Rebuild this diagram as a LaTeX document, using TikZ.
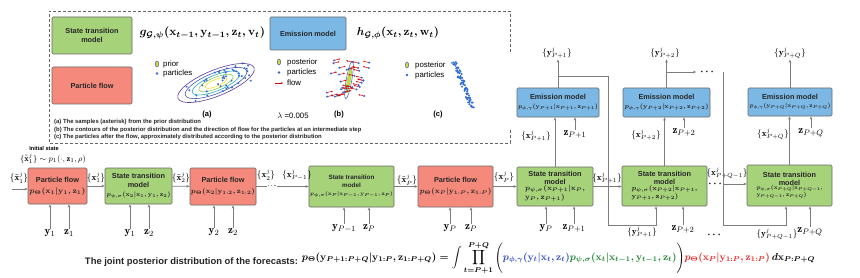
\documentclass[tikz,border=0pt]{standalone}
\usepackage{fontspec}
\setsansfont{Liberation Sans}
\usepackage{amsmath,amssymb}
\usepackage{graphicx}
\usetikzlibrary{arrows.meta}
\definecolor{stgreen}{RGB}{166,210,122}
\definecolor{pfred}{RGB}{245,138,124}
\definecolor{embl}{RGB}{124,184,230}
\definecolor{bordergray}{RGB}{105,105,105}
\definecolor{arrgray}{RGB}{125,125,125}
\definecolor{ptblue}{RGB}{45,105,215}
\definecolor{vpurple}{RGB}{95,60,160}
\definecolor{vblue}{RGB}{70,90,180}
\definecolor{vteal}{RGB}{40,170,190}
\definecolor{vgreen}{RGB}{140,205,80}
\definecolor{vyellow}{RGB}{245,225,40}
\definecolor{fblue}{RGB}{40,70,200}
\definecolor{fgreen}{RGB}{20,130,40}
\definecolor{fred}{RGB}{240,30,30}
\newcommand{\ttlA}{\sffamily\bfseries\fontsize{7.3}{8.4}\selectfont}
\newcommand{\ttlB}{\sffamily\bfseries\fontsize{6.3}{7.4}\selectfont}
\newcommand{\vx}{\mathbf{x}}
\newcommand{\vy}{\mathbf{y}}
\newcommand{\vz}{\mathbf{z}}
\begin{document}
\begin{tikzpicture}[x=1pt,y=-1pt,
  box/.style={draw=bordergray, line width=0.6pt, rounded corners=1.2pt, inner sep=0pt, align=center, text=black!85, font=\ttlA},
  stbox/.style={box, fill=stgreen},
  pfbox/.style={box, fill=pfred},
  embox/.style={box, fill=embl},
  arr/.style={-{Stealth[length=3.2pt,width=2.6pt]}, draw=arrgray, line width=0.6pt},
  plain/.style={draw=arrgray, line width=0.6pt},
  lbl/.style={inner sep=0.4pt, font=\fontsize{9}{10}\selectfont},
  inl/.style={inner sep=0.4pt, font=\fontsize{11}{12}\selectfont},
  leg/.style={anchor=west, inner sep=0pt, font=\sffamily\fontsize{7.8}{9}\selectfont},
  sub/.style={inner sep=0pt, font=\sffamily\bfseries\fontsize{7.5}{9}\selectfont},
  flowarr/.style={-{Stealth[length=1.8pt,width=1.6pt]}, draw=red!85!black, line width=0.5pt},
  pst/.style={draw=vblue, fill=vyellow!70!vgreen, line width=0.5pt}
]
\useasboundingbox (0,0) rectangle (860,278);
\fill[white] (0,0) rectangle (860,278);

% ---------- dashed legend frame ----------
\draw[draw=gray!80!black, line width=0.8pt, dash pattern=on 3pt off 2pt]
  (510,52) -- (510,11) -- (49,11) -- (49,143) -- (510,143) -- (510,128);

% legend boxes
\node[stbox, minimum width=80pt, minimum height=37pt] (lst) at (92,35.5) {State transition\\model};
\node[pfbox, minimum width=80pt, minimum height=37pt] (lpf) at (92,85.5) {Particle flow};
\node[embox, minimum width=76pt, minimum height=33pt] (lem) at (308,33.5) {Emission model};
\node[inner sep=0pt] (gform) at (202.5,33) {\resizebox{125pt}{!}{\boldmath$g_{\mathcal{G},\psi}(\vx_{t-1},\vy_{t-1},\vz_t,\mathbf{v}_t)$}};
\node[inner sep=0pt] (hform) at (398,33) {\resizebox{82pt}{!}{\boldmath$h_{\mathcal{G},\phi}(\vx_t,\vz_t,\mathbf{w}_t)$}};

% plot (a)
\begin{scope}[shift={(216,83)}, rotate=22]
  \draw[vpurple, line width=0.6pt] (0,0) ellipse [x radius=41pt, y radius=13pt];
  \draw[vblue, line width=0.6pt] (0,0) ellipse [x radius=33pt, y radius=10.3pt];
  \draw[vteal, line width=0.6pt] (0,0) ellipse [x radius=25.5pt, y radius=7.8pt];
  \draw[vgreen, line width=0.6pt] (0,0) ellipse [x radius=18.5pt, y radius=5.6pt];
  \draw[vyellow, line width=0.6pt] (0,0) ellipse [x radius=11.5pt, y radius=3.4pt];
  \pgfmathsetseed{11}
  \foreach \i in {1,...,46}{
    \pgfmathsetmacro\px{rand*37}
    \pgfmathsetmacro\py{rand*12}
    \fill[ptblue] (\px pt,\py pt) circle[radius=1.1pt];
  }
\end{scope}
\draw[pst] (157,64) ellipse [x radius=1.7pt, y radius=3pt];
\node[leg] (lgprior) at (163,64) {prior};
\fill[ptblue] (157,73.5) circle[radius=1.4pt];
\node[leg] (lgpart) at (163,73.5) {particles};
\node[sub] (suba) at (207,115) {(a)};

% plot (b)
\begin{scope}[shift={(349,80)}, rotate=80]
  \draw[vblue, line width=0.5pt] (0,0) ellipse [x radius=19pt, y radius=2.8pt];
  \draw[pst, draw=vgreen] (0,0) ellipse [x radius=13pt, y radius=1.6pt];
\end{scope}
\pgfmathsetseed{5}
\foreach \i in {1,...,36}{
  \pgfmathsetmacro\py{79+rand*21}
  \pgfmathsetmacro\ax{349+(79-\py)*0.17}
  \pgfmathsetmacro\px{\ax+rand*20}
  \pgfmathsetmacro\qx{\px+6*sign(\ax-\px)}
  \draw[flowarr] (\px,\py) -- (\qx,\py-1.5);
  \fill[ptblue] (\px,\py) circle[radius=1.1pt];
}
\draw[pst] (279,62) ellipse [x radius=1.7pt, y radius=3pt];
\node[leg] (lgpost) at (287,62) {posterior};
\fill[ptblue] (279,72.5) circle[radius=1.4pt];
\node[leg] (lgpartb) at (287,72.5) {particles};
\draw[flowarr] (275,83) -- (283,83);
\node[leg] (lgflow) at (287,83) {flow};
\node[inner sep=0pt, font=\sffamily\fontsize{7.8}{9}\selectfont] (lam) at (293,116) {$\lambda$ =0.005};
\node[sub] (subb) at (339,115) {(b)};

% plot (c)
\pgfmathsetseed{3}
\foreach \i in {0,...,70}{
  \pgfmathsetmacro\px{454+\i/70*18+rand*2.2}
  \pgfmathsetmacro\py{62+\i/70*44+rand*2.2}
  \fill[ptblue] (\px,\py) circle[radius=1.1pt];
}
\draw[pst] (407,65) ellipse [x radius=1.7pt, y radius=3pt];
\node[leg] (lgpostc) at (415,65) {posterior};
\fill[ptblue] (407,75) circle[radius=1.4pt];
\node[leg] (lgpartc) at (415,75) {particles};
\node[sub] (subc) at (438,115) {(c)};

% captions
\node[anchor=north west, align=left, inner sep=0pt, text=black!85,
  font=\sffamily\bfseries\fontsize{5.9}{7.6}\selectfont] (cap) at (54,119.3)
  {(a) The samples (asterisk) from the prior distribution\\
   (b) The contours of the posterior distribution and the direction of flow for the particles at an intermediate step\\
   (c) The particles after the flow,  approximately distributed according to the posterior distribution};

% ---------- main chain ----------
\node[inner sep=0pt, font=\sffamily\bfseries\fontsize{5.6}{7}\selectfont] (ini) at (44,148.5) {Initial state};
\node[inner sep=0pt, font=\fontsize{8.5}{9}\selectfont] (inid) at (53,158.5) {$\{\tilde{\vx}^j_1\}\sim p_1(\cdot,\vz_1,\rho)$};

\node[pfbox, minimum width=59pt, minimum height=36pt] (pf1) at (57.5,186)
  {Particle flow\\[2.5pt]\resizebox{56pt}{!}{\boldmath$p_{\Theta}(\vx_1|\vy_1,\vz_1)$}};
\node[stbox, minimum width=67pt, minimum height=36pt] (st2) at (138.5,186)
  {State transition\\model\\[1pt]\resizebox{64pt}{!}{\boldmath$p_{\psi,\sigma}(\vx_2|\vx_1,\vy_1,\vz_2)$}};
\node[pfbox, minimum width=66pt, minimum height=37pt] (pf3) at (223,186.5)
  {Particle flow\\[2.5pt]\resizebox{64pt}{!}{\boldmath$p_{\Theta}(\vx_2|\vy_{1:2},\vz_{1:2})$}};
\node[stbox, minimum width=85pt, minimum height=41pt, font=\ttlB] (st4) at (351.5,186.5)
  {State transition\\model\\[1pt]\resizebox{83pt}{!}{\boldmath$p_{\psi,\sigma}(\vx_P|\vx_{P-1},\vy_{P-1},\vz_P)$}};
\node[pfbox, minimum width=75pt, minimum height=41pt] (pf5) at (455.5,186.5)
  {Particle flow\\[3pt]\resizebox{72pt}{!}{\boldmath$p_{\Theta}(\vx_P|\vy_{1:P},\vz_{1:P})$}};
\node[stbox, minimum width=76pt, minimum height=39pt] (st6) at (555,186.5)
  {State transition\\model\\[-1pt]\resizebox{60pt}{!}{\boldmath\begin{tabular}{@{}l@{}}$p_{\psi,\sigma}(\vx_{P+1}|\vx_P,$\\$\vy_P,\vz_{P+1})$\end{tabular}}};
\node[stbox, minimum width=85pt, minimum height=40pt] (st7) at (664.5,186)
  {State transition\\model\\[-1pt]\resizebox{66pt}{!}{\boldmath\begin{tabular}{@{}l@{}}$p_{\psi,\sigma}(\vx_{P+2}|\vx_{P+1},$\\$\vy_{P+1},\vz_{P+2})$\end{tabular}}};
\node[stbox, minimum width=85pt, minimum height=41pt] (st8) at (789.5,185.5)
  {State transition\\model\\[-1pt]\resizebox{66pt}{!}{\boldmath\begin{tabular}{@{}l@{}}$p_{\psi,\sigma}(\vx_{P+Q}|\vx_{P+Q-1},$\\$\vy_{P+Q-1},\vz_{P+Q})$\end{tabular}}};

\node[embox, minimum width=82pt, minimum height=29pt] (em1) at (558,102.5)
  {Emission model\\[0pt]\resizebox{80pt}{!}{\boldmath$p_{\phi,\gamma}(\vy_{P+1}|\vx_{P+1},\vz_{P+1})$}};
\node[embox, minimum width=87pt, minimum height=29pt] (em2) at (666.5,102.5)
  {Emission model\\[0pt]\resizebox{84pt}{!}{\boldmath$p_{\phi,\gamma}(\vy_{P+2}|\vx_{P+2},\vz_{P+2})$}};
\node[embox, minimum width=84pt, minimum height=28pt] (em3) at (790,102)
  {Emission model\\[0pt]\resizebox{81pt}{!}{\boldmath$p_{\phi,\gamma}(\vy_{P+Q}|\vx_{P+Q},\vz_{P+Q})$}};

% chain labels
\node[lbl] (lx0) at (19,178) {$\{\tilde{\vx}^j_1\}$};
\coordinate (in0) at (12,189);
\draw[arr] (in0) -- (in0 -| pf1.west);
\node[lbl] (lx1) at (96,177.5) {$\{\vx^j_1\}$};
\draw[arr] (pf1) -- (st2);
\node[lbl] (lxt2) at (181,177.5) {$\{\tilde{\vx}^j_2\}$};
\draw[arr] (st2) -- (pf3);
\node[lbl] (lx2) at (266,175) {$\{\vx^j_2\}$};
\node[inner sep=0pt, font=\fontsize{9}{10}\selectfont] (dots1) at (272,186.5) {$\cdot\!\cdot\!\cdot\!\cdot$};
\draw[plain] (pf3.east) -- (dots1.west);
\draw[arr] (dots1.east) -- (dots1.east -| st4.west);
\node[lbl] (lxP1) at (297,175) {$\{\vx^j_{P-1}\}$};
\node[lbl] (lxtP) at (407,180) {$\{\tilde{\vx}^j_P\}$};
\draw[arr] (st4) -- (pf5);
\node[lbl] (lxP) at (504,177) {$\{\vx^j_P\}$};
\draw[arr] (pf5) -- (st6);
\node[lbl] (lxP1b) at (607,178) {$\{\vx^j_{P+1}\}$};
\draw[arr] (st6.east) -- (st6.east -| st7.west);
\node[inner sep=0pt, font=\fontsize{10}{10}\selectfont] (dots2) at (716,184) {$\boldsymbol{\cdots}$};
\node[lbl] (lxPQ1) at (727,173) {$\{\vx^j_{P+Q-1}\}$};
\draw[arr] (dots2.east) -- (dots2.east -| st8.west);

% inputs below boxes
\node[inl, anchor=north] (y1a) at (50,229) {$\vy_1$};
\node[inl, anchor=north] (z1a) at (69,229) {$\vz_1$};
\node[inl, anchor=north] (y1b) at (130,229) {$\vy_1$};
\node[inl, anchor=north] (z2b) at (149,229) {$\vz_2$};
\node[inl, anchor=north] (y2c) at (214,228) {$\vy_2$};
\node[inl, anchor=north] (z2c) at (233,228) {$\vz_2$};
\node[inl, anchor=north] (yPd) at (344,224) {$\vy_{P-1}$};
\node[inl, anchor=north] (zPd) at (369,224) {$\vz_P$};
\node[inl, anchor=north] (yPe) at (450,224) {$\vy_P$};
\node[inl, anchor=north] (zPe) at (471,224) {$\vz_P$};
\node[inl, anchor=north] (yPf) at (546,224) {$\vy_P$};
\node[inl, anchor=north] (zPf) at (574,224) {$\vz_{P+1}$};
\node[inl, anchor=north] (zPg) at (683,225) {$\vz_{P+2}$};
\node[inner sep=0pt, font=\fontsize{10}{10}\selectfont] (dots3) at (715,235) {$\boldsymbol{\cdots}$};
\node[inl, anchor=north] (zPh) at (810,227) {$\vz_{P+Q}$};
\foreach \l/\b in {y1a/pf1, z1a/pf1, y1b/st2, z2b/st2, y2c/pf3, z2c/pf3, yPd/st4, zPd/st4, yPe/pf5, zPe/pf5, yPf/st6, zPf/st6, zPg/st7, zPh/st8}
  \draw[arr] (\l.north) -- (\l.north |- \b.south);

% upward links to emission models
\node[lbl] (lxe1) at (536,136) {$\{\vx^j_{P+1}\}$};
\node[inl, anchor=north] (ze1) at (575,130) {$\vz_{P+1}$};
\draw[arr] (st6.north) -- (st6.north |- em1.south);
\draw[arr] (ze1.north) -- (ze1.north |- em1.south);
\node[lbl] (lxe2) at (646,135) {$\{\vx^j_{P+2}\}$};
\node[inl, anchor=north] (ze2) at (684,128) {$\vz_{P+2}$};
\draw[arr] (st7.north) -- (st7.north |- em2.south);
\draw[arr] (ze2.north) -- (ze2.north |- em2.south);
\node[lbl] (lxe3) at (773,134) {$\{\vx^j_{P+Q}\}$};
\node[inl, anchor=north] (ze3) at (811,128) {$\vz_{P+Q}$};
\draw[arr] (st8.north) -- (st8.north |- em3.south);
\draw[arr] (ze3.north) -- (ze3.north |- em3.south);

% outputs
\node[lbl] (ly1) at (557,53) {$\{\vy^j_{P+1}\}$};
\node[lbl] (ly2) at (665,53) {$\{\vy^j_{P+2}\}$};
\node[lbl] (ly3) at (790,53) {$\{\vy^j_{P+Q}\}$};
\draw[arr] (em1.north) -- (em1.north |- ly1.south);
\draw[arr] (em2.north) -- (em2.north |- ly2.south);
\draw[arr] (em3.north) -- (em3.north |- ly3.south);

% feedback of y to next state transition
\coordinate (b1) at (558,76);
\coordinate (c1) at (608,225);
\draw[arr] (b1) -| (c1) -| ([xshift=-8.5pt]st7.south);
\node[lbl] (lyb1) at (642,232) {$\{\vy^j_{P+1}\}$};
\coordinate (b2) at (666.5,72);
\node[inner sep=0pt, font=\fontsize{10}{10}\selectfont] (dots4) at (708,72) {$\boldsymbol{\cdots}$};
\draw[arr] (b2) -- ([xshift=-4pt]dots4.west);
\coordinate (b2s) at (723,72);
\coordinate (c2) at (723,225);
\draw[arr] (b2s) -- (c2) -| ([xshift=-3.5pt]st8.south);
\node[lbl] (lyb2) at (777,234) {$\{\vy^j_{P+Q-1}\}$};

% ---------- joint posterior ----------
\node[inner sep=0pt, text=black!85] (jt) at (191.5,262) {\resizebox{213pt}{!}{\sffamily\bfseries The joint posterior distribution of the forecasts:}};
\node[inner sep=0pt] (fm) at (558.5,258) {\resizebox{513pt}{!}{\boldmath$\displaystyle
  p_{\Theta}(\vy_{P+1:P+Q}|\vy_{1:P},\vz_{1:P+Q}) = \int\prod_{t=P+1}^{P+Q}\Bigg(
  \textcolor{fblue}{p_{\phi,\gamma}(\vy_t|\vx_t,\vz_t)}
  \textcolor{fgreen}{p_{\psi,\sigma}(\vx_t|\vx_{t-1},\vy_{t-1},\vz_t)}\Bigg)
  \textcolor{fred}{p_{\Theta}(\vx_P|\vy_{1:P},\vz_{1:P})}\,d\vx_{P:P+Q}$}};
\end{tikzpicture}
\end{document}
